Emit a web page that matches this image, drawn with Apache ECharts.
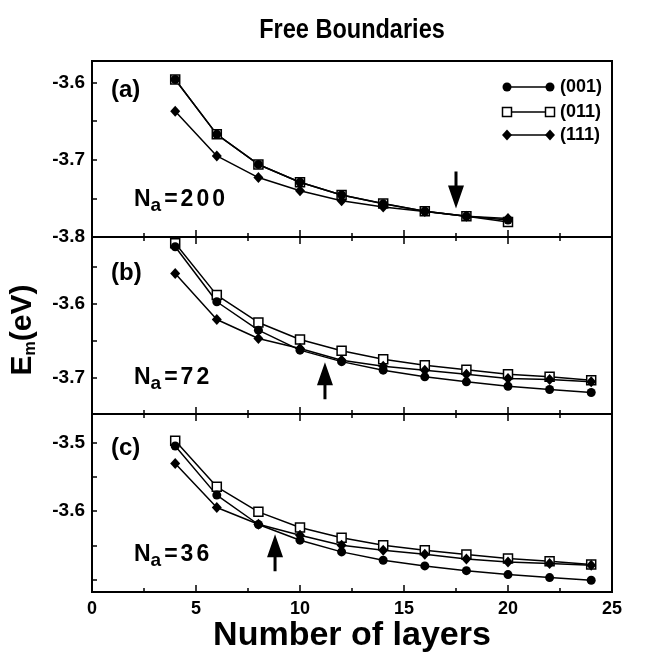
<!DOCTYPE html>
<html lang="en">
<head>
<meta charset="UTF-8">
<title>Free Boundaries</title>
<script src="https://cdn.jsdelivr.net/npm/echarts@6.0.0/dist/echarts.min.js"></script>
<style>html,body{margin:0;padding:0;background:#fff}</style>
</head>
<body>
<div id="main" style="width:652px;height:662px"></div>
<script type="text/javascript">
// number of layers
var layersA = [4, 6, 8, 10, 12, 14, 16, 18, 20];
var layersBC = [4, 6, 8, 10, 12, 14, 16, 18, 20, 22, 24];

// (a) Na = 200
var e001a = [-3.596, -3.667, -3.706, -3.729, -3.7455, -3.757, -3.7667, -3.7732, -3.778];
var e011a = [-3.596, -3.667, -3.706, -3.729, -3.7455, -3.7567, -3.7667, -3.7732, -3.7805];
var e111a = [-3.637, -3.695, -3.723, -3.740, -3.753, -3.761, -3.767, -3.773, -3.776];

// (b) Na = 72
var e001b = [-3.5222, -3.5968, -3.6353, -3.6624, -3.678, -3.6896, -3.6986, -3.7054, -3.7113, -3.7158, -3.7199];
var e011b = [-3.5176, -3.5878, -3.6249, -3.648, -3.6633, -3.6747, -3.6828, -3.689, -3.695, -3.6986, -3.7031];
var e111b = [-3.5584, -3.6208, -3.6466, -3.6602, -3.676, -3.6842, -3.6896, -3.695, -3.7008, -3.7022, -3.7054];

// (c) Na = 36
var e001c = [-3.5053, -3.5767, -3.6194, -3.6422, -3.6592, -3.6714, -3.6796, -3.6865, -3.6922, -3.6966, -3.7004];
var e011c = [-3.4976, -3.5646, -3.601, -3.6238, -3.6388, -3.6495, -3.6568, -3.663, -3.6689, -3.6728, -3.6776];
var e111c = [-3.5306, -3.5947, -3.619, -3.635, -3.6495, -3.6568, -3.6626, -3.6695, -3.6738, -3.6762, -3.6786];

// y ranges, ticks and labels per panel
var yRange = [[-3.8, -3.572], [-3.749, -3.509], [-3.7175, -3.4588]];
var yTicks = [[-3.8, -3.75, -3.7, -3.65, -3.6], [-3.75, -3.7, -3.65, -3.6, -3.55], [-3.7, -3.65, -3.6, -3.55, -3.5]];
var yLabels = [[-3.8, -3.7, -3.6], [-3.7, -3.6], [-3.6, -3.5]];

// arrows: x position, centre value, direction
var arrowX = [17.5, 11.2, 8.8];
var arrowMid = [-3.739, -3.7038, -3.6604];
var arrowDown = [true, false, false];

var panelTags = ['(a)', '(b)', '(c)'];
var atomCounts = ['200', '72', '36'];

var myChart = echarts.init(document.getElementById('main'));
var FONT = '"Liberation Sans", Arial, sans-serif';

var grids = [
  {left: 92, right: 40, top: 61, height: 176},
  {left: 92, right: 40, top: 237, height: 177},
  {left: 92, right: 40, top: 414, height: 178}
];
grids.forEach(function (g) {
  g.show = true; g.borderColor = '#000'; g.borderWidth = 2; g.backgroundColor = 'transparent';
});

function xAx(gi, pos, labels) {
  return {
    type: 'value', gridIndex: gi, position: pos, min: 0, max: 25, interval: 5,
    axisLine: {show: false},
    axisTick: {show: true, inside: true, length: 7, lineStyle: {color: '#000', width: 1.5}},
    minorTick: {show: true, splitNumber: 2, length: 4, lineStyle: {color: '#000', width: 1.5}},
    splitLine: {show: false},
    axisLabel: {show: labels, margin: 8, color: '#000', fontSize: 18, fontWeight: 'bold', fontFamily: FONT},
    name: labels ? 'Number of layers' : '',
    nameLocation: 'middle', nameGap: 27,
    nameTextStyle: {color: '#000', fontSize: 34, fontWeight: 'bold', fontFamily: FONT}
  };
}

var xAxes = [xAx(0, 'bottom', false), xAx(1, 'bottom', false), xAx(2, 'bottom', true),
             xAx(1, 'top', false), xAx(2, 'top', false)];

var yAxes = [0, 1, 2].map(function (i) {
  return {
    type: 'value', gridIndex: i, min: yRange[i][0], max: yRange[i][1],
    axisLine: {show: false},
    splitLine: {show: false},
    axisTick: {show: true, inside: true, length: 5, customValues: yTicks[i], lineStyle: {color: '#000', width: 1.5}},
    axisLabel: {
      customValues: yLabels[i], margin: 7, color: '#000', fontSize: 19, fontWeight: 'bold', fontFamily: FONT,
      formatter: function (v) { return v.toFixed(1); }
    }
  };
});

var lineStyle = {color: '#000', width: 1.5};
var styles = {
  sq: {symbol: 'rect', symbolSize: 9, itemStyle: {color: '#fff', borderColor: '#000', borderWidth: 1.5}},
  ci: {symbol: 'circle', symbolSize: 9, itemStyle: {color: '#000'}},
  di: {symbol: 'diamond', symbolSize: [10, 11], itemStyle: {color: '#000'}}
};

var downPath = 'path://M6.5,0 L9.5,0 L9.5,14 L16,14 L8,37 L0,14 L6.5,14 Z';
var upPath = 'path://M8,0 L16,23 L9.5,23 L9.5,37 L6.5,37 L6.5,23 L0,23 Z';

function mk(name, xs, ys, gi, st, withArrow) {
  var s = {
    type: 'line', name: name, xAxisIndex: gi, yAxisIndex: gi,
    data: xs.map(function (x, k) { return [x, ys[k]]; }),
    symbol: styles[st].symbol, symbolSize: styles[st].symbolSize,
    itemStyle: styles[st].itemStyle, lineStyle: lineStyle,
    showAllSymbol: true, emphasis: {disabled: true}, animation: false
  };
  if (withArrow) {
    s.markPoint = {
      silent: true, animation: false,
      symbol: arrowDown[gi] ? downPath : upPath,
      symbolSize: [16, 37],
      itemStyle: {color: '#000'},
      label: {show: false},
      data: [{coord: [arrowX[gi], arrowMid[gi]]}]
    };
  }
  return s;
}

var series = [
  mk('(011)', layersA, e011a, 0, 'sq'), mk('(001)', layersA, e001a, 0, 'ci'), mk('(111)', layersA, e111a, 0, 'di', true),
  mk('(011)', layersBC, e011b, 1, 'sq'), mk('(001)', layersBC, e001b, 1, 'ci'), mk('(111)', layersBC, e111b, 1, 'di', true),
  mk('(011)', layersBC, e011c, 2, 'sq'), mk('(001)', layersBC, e001c, 2, 'ci'), mk('(111)', layersBC, e111c, 2, 'di', true)
];

// text annotations
var graphics = [];
graphics.push({
  type: 'text', x: 352, y: 30, scaleX: 0.84,
  style: {text: 'Free Boundaries', textAlign: 'center', textVerticalAlign: 'middle',
          font: 'bold 28px ' + FONT, fill: '#000'}
});
graphics.push({
  type: 'text', x: 23, y: 330, rotation: Math.PI / 2,
  style: {
    text: '{b|E}{s|m}{b|(eV)}', textAlign: 'center', textVerticalAlign: 'middle',
    rich: {
      b: {fontSize: 30, fontWeight: 'bold', fontFamily: FONT, fill: '#000'},
      s: {fontSize: 16, fontWeight: 'bold', fontFamily: FONT, fill: '#000', padding: [16, 0, 0, 0]}
    }
  }
});
var tagY = [90, 273, 448];
var naY = [200, 378, 555];
for (var i = 0; i < 3; i++) {
  graphics.push({
    type: 'text', x: 111, y: tagY[i],
    style: {text: panelTags[i], textVerticalAlign: 'middle', font: 'bold 24px ' + FONT, fill: '#000'}
  });
  var digits = ('=' + atomCounts[i]).split('').map(function (c) { return '{c|' + c + '}'; }).join('');
  graphics.push({
    type: 'text', x: 134, y: naY[i],
    style: {
      text: '{b|N}{s|a}' + digits, textVerticalAlign: 'middle',
      rich: {
        b: {fontSize: 23, fontWeight: 'bold', fontFamily: FONT, fill: '#000'},
        s: {fontSize: 19, fontWeight: 'bold', fontFamily: FONT, fill: '#000', padding: [11, 1, 0, 0]},
        c: {fontSize: 23, fontWeight: 'bold', fontFamily: FONT, fill: '#000', padding: [0, 1, 0, 2]}
      }
    }
  });
}

// legend drawn as line + end markers
var legendY = [87, 112, 135];
var legendNames = ['(001)', '(011)', '(111)'];
var legendKinds = ['ci', 'sq', 'di'];
function marker(kind, cx, cy) {
  if (kind === 'ci') return {type: 'circle', shape: {cx: cx, cy: cy, r: 4.5}, style: {fill: '#000'}};
  if (kind === 'sq') return {type: 'rect', shape: {x: cx - 4.5, y: cy - 4.5, width: 9, height: 9},
                             style: {fill: '#fff', stroke: '#000', lineWidth: 1.5}};
  return {type: 'polygon', shape: {points: [[cx, cy - 5.5], [cx + 5, cy], [cx, cy + 5.5], [cx - 5, cy]]}, style: {fill: '#000'}};
}
for (var j = 0; j < 3; j++) {
  var ly = legendY[j];
  graphics.push({type: 'line', shape: {x1: 507, y1: ly, x2: 550, y2: ly}, style: {stroke: '#000', lineWidth: 1.5}});
  graphics.push(marker(legendKinds[j], 507, ly));
  graphics.push(marker(legendKinds[j], 550, ly));
  graphics.push({type: 'text', x: 560, y: ly,
    style: {text: legendNames[j], textVerticalAlign: 'middle', font: 'bold 18px ' + FONT, fill: '#000'}});
}

var option = {
  backgroundColor: '#fff',
  animation: false,
  grid: grids,
  xAxis: xAxes,
  yAxis: yAxes,
  series: series,
  graphic: graphics
};
myChart.setOption(option);
</script>
</body>
</html>
